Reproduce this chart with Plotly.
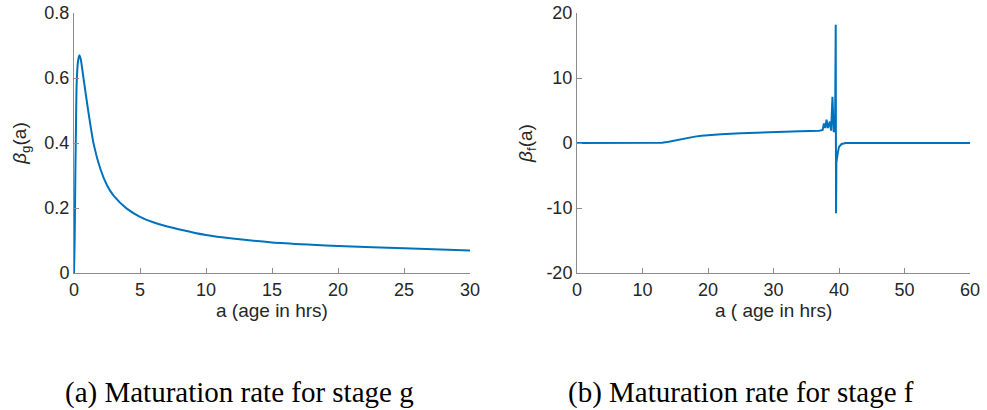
import plotly.graph_objects as go

# ---- data: left panel (beta_g) ----
age_g = [0, 0.05, 0.1, 0.15, 0.2, 0.3, 0.4, 0.5, 0.7, 1.0, 1.5, 2.0, 2.5, 3.0, 4.0, 5.0, 6.0, 7.0,
         8.0, 10.0, 12.0, 15.0, 18.0, 20.0, 25.0, 30.0]
beta_g = [0.0, 0.1, 0.3, 0.45, 0.58, 0.65, 0.67, 0.66, 0.605, 0.52, 0.395, 0.32, 0.27, 0.238,
          0.198, 0.173, 0.156, 0.144, 0.134, 0.117, 0.106, 0.094, 0.087, 0.083, 0.076, 0.069]

# ---- data: right panel (beta_f) ----
age_f = [0, 5, 10, 12, 13, 14, 15, 16, 17, 18, 19, 20, 22, 25, 28, 31, 34, 37.0, 37.5, 37.7,
         37.9, 38.1, 38.3, 38.6, 38.8, 39.0, 39.2, 39.4, 39.5, 39.55, 39.6, 39.8, 40.0, 40.4,
         41.0, 45, 50, 55, 60]
beta_f = [0, 0, 0, 0, 0.05, 0.2, 0.4, 0.62, 0.82, 0.98, 1.1, 1.2, 1.35, 1.5, 1.64, 1.73, 1.82,
          1.9, 2.0, 3.0, 2.3, 3.6, 2.3, 3.3, 1.9, 7.1, 1.7, 2.0, 18.2, -10.8, -3.0, -1.6, -0.6,
          -0.15, 0, 0, 0, 0, 0]

xticks_g = [0, 5, 10, 15, 20, 25, 30]
yticks_g = [0, 0.2, 0.4, 0.6, 0.8]
yticklabels_g = ["0", "0.2", "0.4", "0.6", "0.8"]
xticks_f = [0, 10, 20, 30, 40, 50, 60]
yticks_f = [-20, -10, 0, 10, 20]
yticklabels_f = ["-20", "-10", "0", "10", "20"]

xtitles = ["a (age in hrs)", "a ( age in hrs)"]
captions = ["(a) Maturation rate for stage g", "(b) Maturation rate for stage f"]

W, H = 987, 410
LINE = "#0072BD"
TXT = "#262626"
AX = "#8c8c8c"
FONT = "Liberation Sans, Arial, sans-serif"

fig = go.Figure()
fig.add_trace(go.Scatter(x=age_g, y=beta_g, mode="lines",
                         line=dict(color=LINE, width=2, shape="spline", smoothing=0.7),
                         xaxis="x", yaxis="y", showlegend=False))
fig.add_trace(go.Scatter(x=age_f, y=beta_f, mode="lines", line=dict(color=LINE, width=2),
                         xaxis="x2", yaxis="y2", showlegend=False))


def px_x(p):
    return p / W


def px_y(p):
    return 1 - p / H


common = dict(showgrid=False, zeroline=False, showline=True, linecolor=AX, linewidth=1,
              ticks="inside", ticklen=5, tickcolor=AX, automargin=False,
              tickfont=dict(family=FONT, size=18, color=TXT), mirror=False)

fig.update_layout(
    width=W, height=H,
    margin=dict(l=0, r=0, t=0, b=0),
    paper_bgcolor="white", plot_bgcolor="white",
    font=dict(family=FONT, color=TXT),
    xaxis=dict(domain=[px_x(74), px_x(470)], range=[0, 30], tickvals=xticks_g, anchor="y", **common),
    yaxis=dict(domain=[px_y(273), px_y(13)], range=[0, 0.8], tickvals=yticks_g, ticktext=yticklabels_g,
               anchor="x", title=dict(text="<i>β</i><sub>g</sub>(a)", font=dict(size=19, color=TXT), standoff=12),
               **common),
    xaxis2=dict(domain=[px_x(577), px_x(970)], range=[0, 60], tickvals=xticks_f, anchor="y2", **common),
    yaxis2=dict(domain=[px_y(273), px_y(13)], range=[-20, 20], tickvals=yticks_f, ticktext=yticklabels_f,
                anchor="x2", title=dict(text="<i>β</i><sub>f</sub>(a)", font=dict(size=19, color=TXT), standoff=8),
                **common),
)

for cx, txt in zip([272, 773.5], xtitles):
    fig.add_annotation(x=px_x(cx), y=px_y(310), xref="paper", yref="paper", text=txt, showarrow=False,
                       xanchor="center", yanchor="middle", font=dict(family=FONT, size=19, color=TXT))

for cx, txt in zip([239, 741], captions):
    fig.add_annotation(x=px_x(cx), y=px_y(392), xref="paper", yref="paper", text=txt, showarrow=False,
                       xanchor="center", yanchor="middle",
                       font=dict(family="Liberation Serif, DejaVu Serif, serif", size=29, color="black"))

fig.write_html("out.html", config={"displayModeBar": False},
               post_script="document.body.style.margin='0';document.body.style.overflow='hidden';")
